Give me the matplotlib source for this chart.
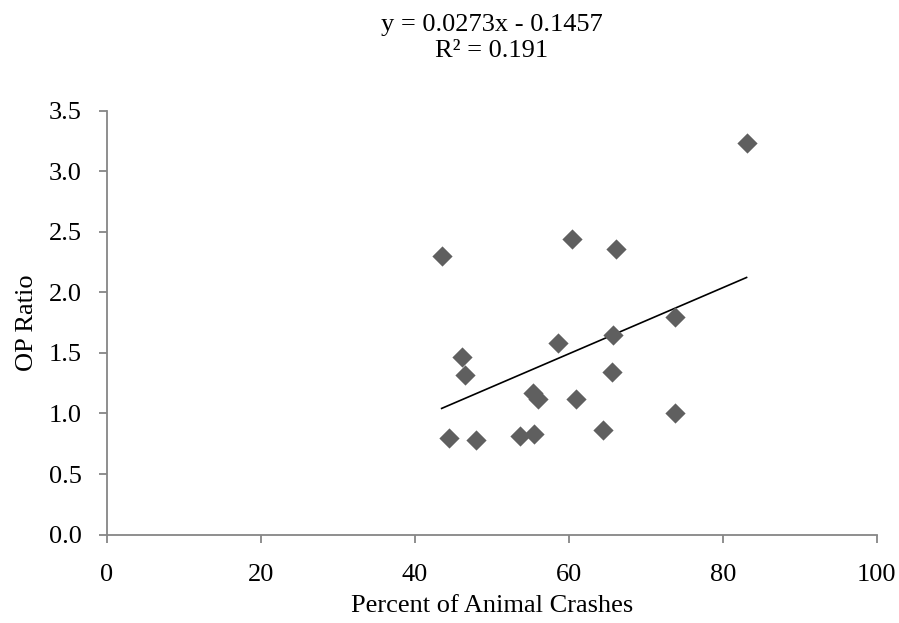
"""
scatter of OP ratio against percent of animal crashes
with linear trend line and its equation
"""

import matplotlib
matplotlib.use("Agg")
import matplotlib.pyplot as plt
import numpy as np

#data
pct_animal = [43.5, 60.4, 66.1, 83.1, 73.8, 65.8, 58.6, 46.2, 46.5, 65.6,
              55.4, 56.0, 60.9, 73.8, 64.4, 44.5, 47.9, 53.7, 55.5]
op_ratio = [2.30, 2.44, 2.36, 3.23, 1.80, 1.65, 1.58, 1.47, 1.32, 1.34,
            1.17, 1.12, 1.12, 1.00, 0.86, 0.80, 0.78, 0.81, 0.83]

#trend line from the equation shown
slope = 0.0273
intercept = -0.1457
r_squared = 0.191

x_ticks = [0, 20, 40, 60, 80, 100]
y_ticks = [0.0, 0.5, 1.0, 1.5, 2.0, 2.5, 3.0, 3.5]

plt.rcParams['font.family'] = ['Liberation Serif', 'DejaVu Serif']
axis_grey = '#868686'
marker_grey = '#5f5f5f'
fsize = 19


def make_plot():
    fig = plt.figure(figsize=(8.99, 6.23), dpi=100)
    left, right = 106.7/899, 876.7/899
    bottom, top = 1 - 534.6/623, 1 - 110.7/623
    ax = fig.add_axes([left, bottom, right - left, top - bottom])

    ax.scatter(pct_animal, op_ratio, marker='D', s=10.3**2,
               color=marker_grey, linewidths=0, zorder=3)

    xfit = np.array([min(pct_animal), max(pct_animal)])
    ax.plot(xfit, slope*xfit + intercept, color='black', lw=1.2, zorder=2)

    ax.set_xlim(0, 100)
    ax.set_ylim(0, 3.5)
    ax.set_xticks(x_ticks)
    ax.set_yticks(y_ticks)
    ax.set_yticklabels(["%.1f" % v for v in y_ticks])

    for side in ['top', 'right']:
        ax.spines[side].set_visible(False)
    for side in ['left', 'bottom']:
        ax.spines[side].set_color(axis_grey)
        ax.spines[side].set_linewidth(1.3)
    ax.tick_params(axis='both', colors=axis_grey, width=1.3, length=5.5,
                   labelcolor='black', labelsize=fsize)
    ax.tick_params(axis='x', pad=15.5)
    ax.tick_params(axis='y', pad=12.5)

    ax.set_xlabel("Percent of Animal Crashes", fontsize=fsize, labelpad=7)
    ax.set_ylabel("OP Ratio", fontsize=fsize, labelpad=8)

    eq = "y = %.4fx - %.4f\nR\u00b2 = %.3f" % (slope, -intercept, r_squared)
    fig.text((left + right)/2, 1 - 14.5/623, eq, ha='center', va='top',
             fontsize=fsize, linespacing=1.2)

    fig.savefig("out.png", dpi=100)


def main():
    make_plot()

if __name__ == "__main__":
    main()
